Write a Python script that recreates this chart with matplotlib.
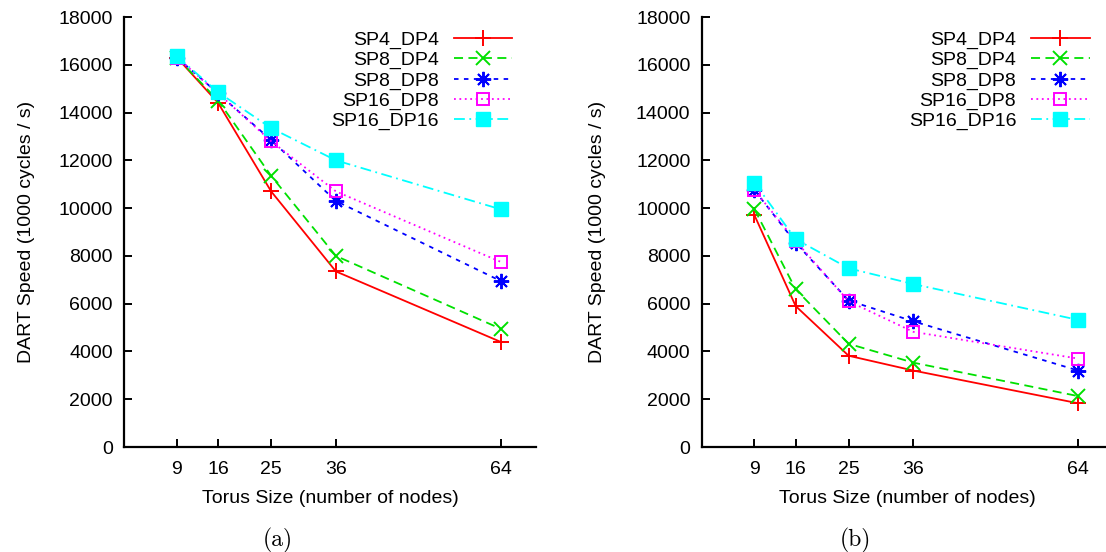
#!/usr/bin/env python3

"""
DART speed vs torus size, two panels (a) and (b).
"""

import matplotlib
matplotlib.use("Agg")
import matplotlib.pyplot as plt

plt.rcParams["font.family"] = ["Liberation Sans", "DejaVu Sans"]

torus_sizes = [9, 16, 25, 36, 64]
series_names = ["SP4_DP4", "SP8_DP4", "SP8_DP8", "SP16_DP8", "SP16_DP16"]

# panel (a)
speed_a = {
    "SP4_DP4":   [16300, 14400, 10700, 7350, 4400],
    "SP8_DP4":   [16300, 14500, 11350, 8000, 4950],
    "SP8_DP8":   [16300, 14800, 12850, 10300, 6950],
    "SP16_DP8":  [16300, 14800, 12800, 10700, 7750],
    "SP16_DP16": [16350, 14850, 13350, 12000, 9950],
}

# panel (b)
speed_b = {
    "SP4_DP4":   [9700, 5900, 3820, 3200, 1830],
    "SP8_DP4":   [9950, 6600, 4320, 3530, 2130],
    "SP8_DP8":   [10750, 8550, 6130, 5260, 3200],
    "SP16_DP8":  [10750, 8620, 6100, 4820, 3700],
    "SP16_DP16": [11060, 8700, 7480, 6820, 5320],
}

styles = {
    "SP4_DP4":   dict(color="#ff0000", linestyle="-", marker="+", markersize=11, mew=1.4),
    "SP8_DP4":   dict(color="#00e000", linestyle=(0, (5, 3)), marker="x", markersize=9.5, mew=1.4),
    "SP8_DP8":   dict(color="#0000ff", linestyle=(0, (2.5, 3)), marker=(8, 2, 0), markersize=11, mew=1.4),
    "SP16_DP8":  dict(color="#ff00ff", linestyle=(0, (1, 2)), marker="s", markersize=8.5,
                      mfc="none", mew=1.4),
    "SP16_DP16": dict(color="#00ffff", linestyle=(0, (6, 2.5, 1, 2.5)), marker="s", markersize=10),
}

W, H = 1106, 552
fig = plt.figure(figsize=(W / 100, H / 100), dpi=100)
FS = 14


def panel(left_px, data, ylab_x_px, caption, caption_x_px):
    ax = fig.add_axes([left_px / W, (H - 447) / H, 412 / W, 430 / H])
    for name in series_names:
        ax.plot(torus_sizes, data[name], label=name, linewidth=1.3, **styles[name])
    ax.set_xlim(0, 70)
    ax.set_ylim(0, 18000)
    ax.set_xticks(torus_sizes)
    ax.set_yticks(range(0, 18001, 2000))
    ax.spines["top"].set_visible(False)
    ax.spines["right"].set_visible(False)
    ax.spines["left"].set_linewidth(1.6)
    ax.spines["bottom"].set_linewidth(1.6)
    ax.tick_params(direction="in", length=6, width=1.4, labelsize=FS)
    ax.tick_params(axis="x", pad=10)
    ax.tick_params(axis="y", pad=8)
    ax.set_xlabel("Torus Size (number of nodes)", fontsize=FS, labelpad=9)
    ax.set_ylabel("DART Speed (1000 cycles / s)", fontsize=FS)
    ax.yaxis.set_label_coords((ylab_x_px - left_px) / 412, 0.5)
    ax.legend(loc="upper right", bbox_to_anchor=(388 / 412, 0.967), frameon=False,
              markerfirst=False, fontsize=FS, handlelength=3.0, handletextpad=0.77,
              labelspacing=0.13, borderpad=0, borderaxespad=0)
    fig.text(caption_x_px / W, 1 - 540 / H, caption, fontfamily="cmr10", fontsize=17,
             ha="center", va="center")
    return ax


panel(124, speed_a, 35, "(a)", 278)
panel(701.5, speed_b, 606, "(b)", 855)

fig.savefig("out.png", dpi=100)
